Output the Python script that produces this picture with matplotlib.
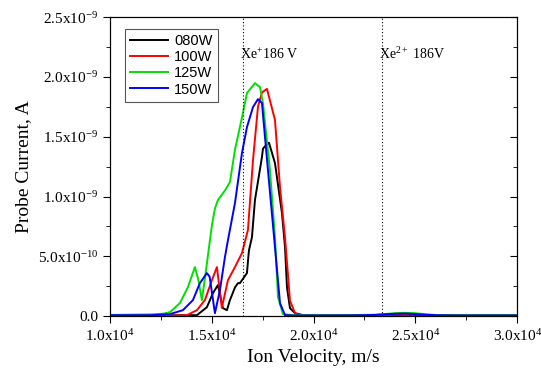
import numpy as np
import matplotlib
matplotlib.use("Agg")
import matplotlib.pyplot as plt
import matplotlib.ticker as ticker

plt.rcParams.update({
    "font.family": "Liberation Serif",
    "mathtext.fontset": "custom",
    "mathtext.rm": "Liberation Serif",
    "mathtext.it": "Liberation Serif:italic",
    "mathtext.bf": "Liberation Serif:bold",
})

# =============================================================================
# DATA  (velocity in m/s, current in 1e-9 A)
# =============================================================================
tail_v = [19500, 20000, 21000, 22000, 23000, 23500, 24000, 24500, 25000,
          25500, 26000, 27000, 28000, 29000, 30000]

v_080 = [10000, 12000, 13500, 14275, 14766, 15061, 15307, 15553, 15749, 15897,
         16143, 16290, 16388, 16732, 16830, 16978, 17125, 17469, 17518, 17617,
         17813, 18108, 18452, 18600, 18698, 18845, 19091] + tail_v
i_080 = [0.005, 0.005, 0.008, 0.008, 0.075, 0.192, 0.26, 0.067, 0.05, 0.134,
         0.24, 0.276, 0.276, 0.36, 0.55, 0.66, 0.97, 1.33, 1.40, 1.42,
         1.45, 1.28, 0.86, 0.58, 0.24, 0.067, 0.025,
         0.008, 0.006, 0.005, 0.005, 0.006, 0.008, 0.010, 0.012, 0.010,
         0.008, 0.006, 0.005, 0.005, 0.005, 0.005]

v_100 = [10000, 13000, 13784, 14275, 14668, 15012, 15258, 15500, 15799, 16143,
         16487, 16781, 17027, 17273, 17469, 17715, 18108, 18354, 18600, 18845,
         19091, 19337] + tail_v[1:]
i_100 = [0.005, 0.005, 0.008, 0.05, 0.134, 0.301, 0.41, 0.07, 0.301, 0.41,
         0.527, 0.72, 1.30, 1.75, 1.87, 1.90, 1.64, 1.08, 0.66, 0.13,
         0.025, 0.008,
         0.006, 0.005, 0.005, 0.006, 0.008, 0.012, 0.016, 0.014,
         0.010, 0.007, 0.005, 0.005, 0.005, 0.005]

v_125 = [10000, 12000, 12600, 12948, 13440, 13833, 14177, 14350, 14521, 14766,
         15012, 15160, 15307, 15651, 15897, 16143, 16487, 16732, 17125, 17371,
         17518, 17862, 18108, 18255, 18501, 19000] + tail_v[1:]
i_125 = [0.01, 0.015, 0.02, 0.033, 0.109, 0.242, 0.41, 0.30, 0.134, 0.44,
         0.76, 0.90, 0.97, 1.05, 1.12, 1.39, 1.66, 1.865, 1.948, 1.915,
         1.781, 1.221, 0.661, 0.16, 0.017, 0.008,
         0.008, 0.008, 0.009, 0.012, 0.018, 0.025, 0.028, 0.025,
         0.015, 0.010, 0.008, 0.008, 0.008, 0.008]

v_150 = [10000, 12000, 12948, 13587, 14079, 14423, 14766, 14900, 15160, 15405,
         15651, 15799, 16143, 16487, 16732, 17027, 17273, 17469, 17764, 18108,
         18354, 18600, 19000] + tail_v[1:]
i_150 = [0.008, 0.008, 0.017, 0.05, 0.134, 0.276, 0.36, 0.33, 0.025, 0.217,
         0.493, 0.635, 0.945, 1.363, 1.58, 1.747, 1.814, 1.781, 1.221, 0.577,
         0.109, 0.008, 0.006,
         0.006, 0.006, 0.007, 0.010, 0.015, 0.020, 0.022, 0.018,
         0.012, 0.008, 0.006, 0.006, 0.006, 0.006]

names = ["080W", "100W", "125W", "150W"]
colors = ["#000000", "#ff0000", "#00e000", "#0000ff"]

xe1_v = 16533
xe2_v = 23381

xticks = [10000, 15000, 20000, 25000, 30000]
xticklabels = [r"1.0x10$^{4}$", r"1.5x10$^{4}$", r"2.0x10$^{4}$",
               r"2.5x10$^{4}$", r"3.0x10$^{4}$"]
yticks = [0.0, 0.5, 1.0, 1.5, 2.0, 2.5]
yticklabels = ["0.0", r"5.0x10$^{-10}$", r"1.0x10$^{-9}$", r"1.5x10$^{-9}$",
               r"2.0x10$^{-9}$", r"2.5x10$^{-9}$"]

# =============================================================================
# FIGURE
# =============================================================================
fig = plt.figure(figsize=(5.41, 3.80), dpi=100)
ax = fig.add_axes([0.203, 0.168, 0.753, 0.787])

series = [(v_080, i_080), (v_100, i_100), (v_125, i_125), (v_150, i_150)]
for (v, cur), name, c in zip(series, names, colors):
    ax.plot(v, cur, color=c, linewidth=1.4, label=name)

ax.axvline(xe1_v, color="k", linestyle=(0, (1, 2)), linewidth=0.8)
ax.axvline(xe2_v, color="k", linestyle=(0, (1, 2)), linewidth=0.8)
ax.text(xe1_v - 150, 2.19, r"Xe$^{+}$186 V", fontsize=10, ha="left", va="center")
ax.text(xe2_v - 150, 2.19, r"Xe$^{2+}$ 186V", fontsize=10, ha="left", va="center")

ax.set_xlim(10000, 30000)
ax.set_ylim(0, 2.5)
ax.set_xticks(xticks)
ax.set_xticklabels(xticklabels)
ax.set_yticks(yticks)
ax.set_yticklabels(yticklabels)
ax.xaxis.set_minor_locator(ticker.MultipleLocator(2500))
ax.yaxis.set_minor_locator(ticker.MultipleLocator(0.25))
ax.tick_params(axis="both", which="both", direction="out", labelsize=11)
ax.tick_params(which="major", length=5)
ax.tick_params(which="minor", length=3)

# right-hand ticks point inward
axr = ax.twinx()
axr.set_ylim(0, 2.5)
axr.set_yticks(yticks)
axr.yaxis.set_minor_locator(ticker.MultipleLocator(0.25))
axr.tick_params(axis="y", which="both", direction="in", labelright=False)
axr.tick_params(which="major", length=5)
axr.tick_params(which="minor", length=3)

ax.set_xlabel("Ion Velocity, m/s", fontsize=14)
ax.set_ylabel("Probe Current, A", fontsize=14)

leg = ax.legend(loc="upper left", bbox_to_anchor=(0.02, 0.985),
                prop={"family": "Liberation Sans", "size": 10.5},
                fancybox=False, edgecolor="#555555", framealpha=1,
                handlelength=2.6, borderpad=0.35, labelspacing=0.15,
                handletextpad=0.4)
leg.get_frame().set_linewidth(0.8)

fig.savefig("out.png", dpi=100)
plt.close(fig)
